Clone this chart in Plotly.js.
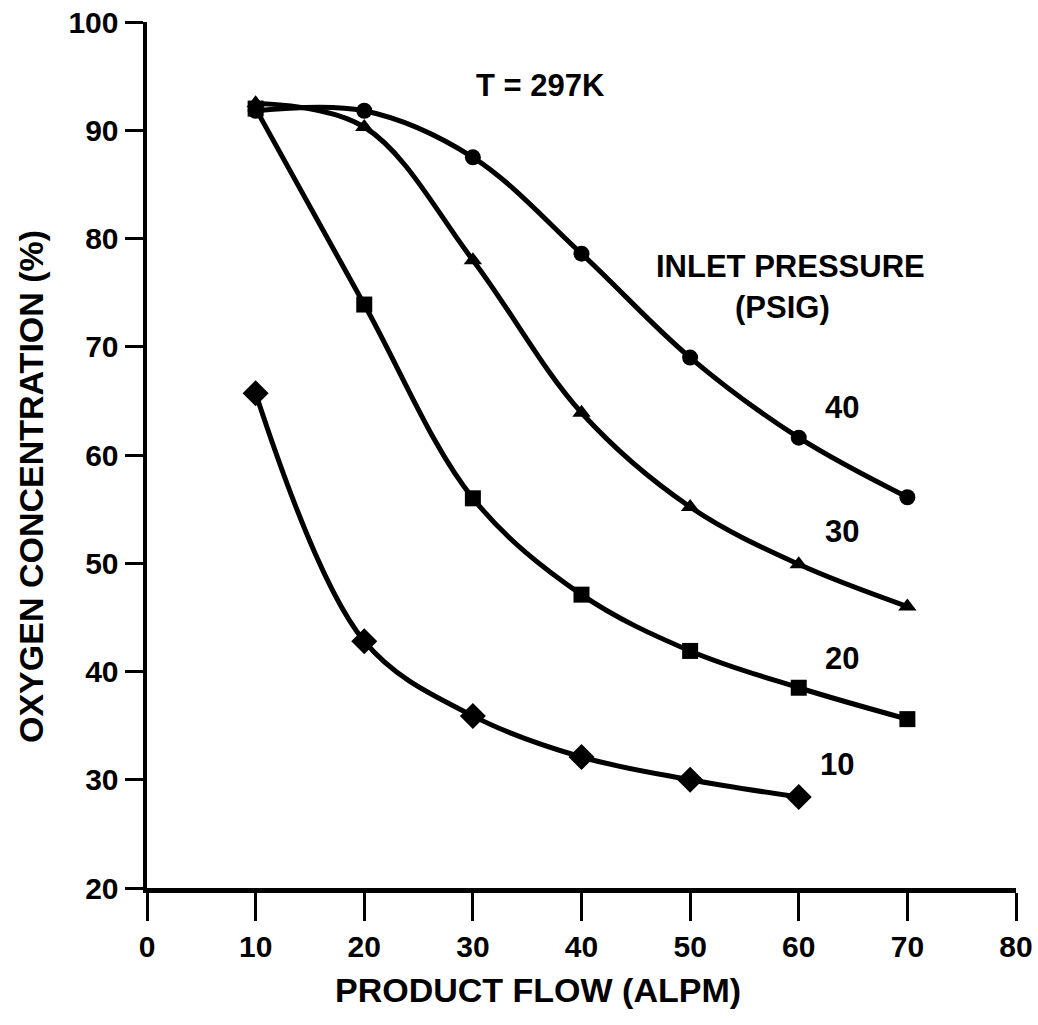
<!DOCTYPE html>
<html>
<head>
<meta charset="utf-8">
<script src="https://cdn.plot.ly/plotly-3.0.1.min.js"></script>
<style>html,body{margin:0;padding:0;background:#fff;}#chart{width:1038px;height:1025px;}</style>
</head>
<body>
<div id="chart"></div>
<script>
const flow = [10, 20, 30, 40, 50, 60, 70];
const flow10 = [10, 20, 30, 40, 50, 60];
const psig40 = [91.8, 91.8, 87.5, 78.6, 69.0, 61.6, 56.1];
const psig30 = [92.5, 90.3, 78.0, 63.9, 55.2, 49.9, 46.0];
const psig20 = [92.0, 73.9, 56.0, 47.1, 41.9, 38.5, 35.6];
const psig10 = [65.7, 42.8, 35.9, 32.1, 30.0, 28.4];
const xTicks = [0, 10, 20, 30, 40, 50, 60, 70, 80];
const yTicks = [20, 30, 40, 50, 60, 70, 80, 90, 100];
const curveLabels = ["40", "30", "20", "10"];
const labelX = [64.0, 64.0, 64.0, 63.5];
const labelY = [64.4, 52.9, 41.2, 31.4];

const FONT = "Liberation Sans, Arial, Helvetica, sans-serif";

function series(x, y, sym, name) {
  return {
    x: x, y: y, name: name, type: "scatter", mode: "lines+markers",
    line: {color: "#000", width: 5, shape: "spline", smoothing: 1.0},
    marker: {symbol: sym, size: sym === "diamond" ? 20 : 16, color: "#000"},
    cliponaxis: false
  };
}

const data = [
  series(flow, psig40, "circle", "40 PSIG"),
  series(flow, psig30, "triangle-up", "30 PSIG"),
  series(flow, psig20, "square", "20 PSIG"),
  series(flow10, psig10, "diamond", "10 PSIG")
];

const W = 1038, H = 1025, L = 147, R = 22, T = 22, B = 137;
const px2x = p => (p - L) / (W - L - R);
const px2y = p => (H - B - p) / (H - T - B);

const annFont = {family: FONT, size: 31, color: "#000", weight: "bold"};
const annotations = [
  {text: "T = 297K", x: 36.2, y: 94.1, xref: "x", yref: "y", showarrow: false, font: annFont},
  {text: "INLET PRESSURE", x: 59.2, y: 77.4, xref: "x", yref: "y", showarrow: false, font: annFont},
  {text: "(PSIG)", x: 58.5, y: 73.6, xref: "x", yref: "y", showarrow: false, font: annFont},
  {text: "PRODUCT FLOW (ALPM)", x: px2x(538), y: px2y(990), xref: "paper", yref: "paper",
   xanchor: "center", yanchor: "middle", showarrow: false,
   font: {family: FONT, size: 34, color: "#000", weight: "bold"}},
  {text: "OXYGEN CONCENTRATION (%)", x: px2x(31), y: px2y(487), xref: "paper", yref: "paper",
   xanchor: "center", yanchor: "middle", textangle: -90, showarrow: false,
   font: {family: FONT, size: 34, color: "#000", weight: "bold"}}
];

curveLabels.forEach((t, i) => {
  annotations.push({text: t, x: labelX[i], y: labelY[i], xref: "x", yref: "y", showarrow: false,
    font: annFont});
});

const layout = {
  width: W, height: H,
  margin: {l: L, r: R, t: T, b: B, pad: 0},
  paper_bgcolor: "#fff", plot_bgcolor: "#fff",
  showlegend: false,
  font: {family: FONT, color: "#000"},
  xaxis: {
    range: [0, 80], tickvals: xTicks, ticktext: xTicks.map(String),
    showgrid: false, zeroline: false, showline: true, linecolor: "#000", linewidth: 4.5,
    ticks: "outside", ticklen: 28, tickwidth: 3, tickcolor: "#000",
    tickfont: {family: FONT, size: 30, color: "#000", weight: "bold"},
    title: {text: ""}
  },
  yaxis: {
    range: [20, 100], tickvals: yTicks, ticktext: yTicks.map(String),
    showgrid: false, zeroline: false, showline: true, linecolor: "#000", linewidth: 4.5,
    ticks: "outside", ticklen: 18, tickwidth: 3, tickcolor: "#000",
    tickfont: {family: FONT, size: 30, color: "#000", weight: "bold"},
    title: {text: ""}
  },
  annotations: annotations
};

Plotly.newPlot("chart", data, layout, {staticPlot: true, displayModeBar: false});
</script>
</body>
</html>
